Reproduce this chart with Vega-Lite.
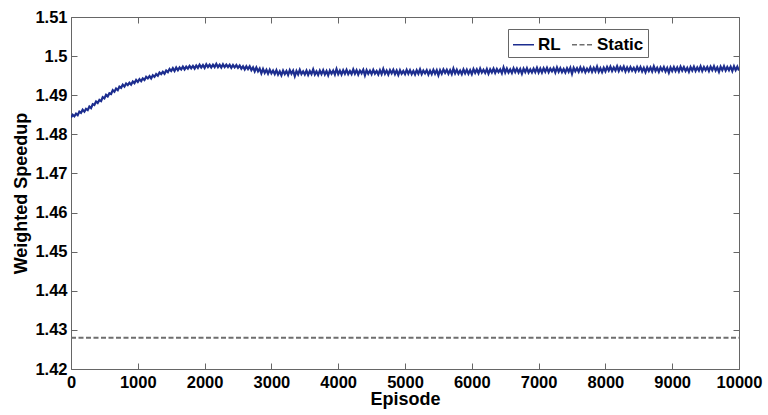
{
"$schema": "https://vega.github.io/schema/vega-lite/v6.json",
"width": 668,
"height": 352,
"autosize": "none",
"padding": {"left": 71, "top": 17, "right": 29, "bottom": 46},
"background": "white",
"config": {
  "view": {"stroke": null},
  "font": "Liberation Sans",
  "axis": {"grid": false, "domainColor": "#666666", "tickColor": "#666666", "domainWidth": 1, "tickWidth": 1, "tickSize": -6, "labelFont": "Liberation Sans", "labelFontSize": 16.5, "labelFontWeight": "bold", "labelColor": "black", "titleFont": "Liberation Sans", "titleFontSize": 18, "titleFontWeight": "bold", "titleColor": "black"}
},
"datasets": {
"rl": [
{"e":0,"v":1.4843},{"e":25,"v":1.4850},{"e":50,"v":1.4846},{"e":75,"v":1.4853},{"e":100,"v":1.4849},{"e":125,"v":1.4858},{"e":150,"v":1.4855},{"e":175,"v":1.4863},{"e":200,"v":1.4858},{"e":225,"v":1.4865},{"e":250,"v":1.4862},
{"e":275,"v":1.4871},{"e":300,"v":1.4867},{"e":325,"v":1.4877},{"e":350,"v":1.4875},{"e":375,"v":1.4884},{"e":400,"v":1.4880},{"e":425,"v":1.4888},{"e":450,"v":1.4885},{"e":475,"v":1.4895},{"e":500,"v":1.4892},
{"e":525,"v":1.4901},{"e":550,"v":1.4897},{"e":575,"v":1.4905},{"e":600,"v":1.4903},{"e":625,"v":1.4913},{"e":650,"v":1.4909},{"e":675,"v":1.4917},{"e":700,"v":1.4913},{"e":725,"v":1.4922},{"e":750,"v":1.4919},
{"e":775,"v":1.4927},{"e":800,"v":1.4922},{"e":825,"v":1.4930},{"e":850,"v":1.4926},{"e":875,"v":1.4932},{"e":900,"v":1.4927},{"e":925,"v":1.4935},{"e":950,"v":1.4931},{"e":975,"v":1.4939},{"e":1000,"v":1.4934},
{"e":1025,"v":1.4941},{"e":1050,"v":1.4936},{"e":1075,"v":1.4943},{"e":1100,"v":1.4939},{"e":1125,"v":1.4947},{"e":1150,"v":1.4943},{"e":1175,"v":1.4949},{"e":1200,"v":1.4943},{"e":1225,"v":1.4951},{"e":1250,"v":1.4947},
{"e":1275,"v":1.4954},{"e":1300,"v":1.4950},{"e":1325,"v":1.4958},{"e":1350,"v":1.4954},{"e":1375,"v":1.4960},{"e":1400,"v":1.4955},{"e":1425,"v":1.4963},{"e":1450,"v":1.4959},{"e":1475,"v":1.4967},{"e":1500,"v":1.4962},
{"e":1525,"v":1.4969},{"e":1550,"v":1.4962},{"e":1575,"v":1.4971},{"e":1600,"v":1.4964},{"e":1625,"v":1.4971},{"e":1650,"v":1.4966},{"e":1675,"v":1.4973},{"e":1700,"v":1.4966},{"e":1725,"v":1.4973},{"e":1750,"v":1.4968},
{"e":1775,"v":1.4975},{"e":1800,"v":1.4969},{"e":1825,"v":1.4975},{"e":1850,"v":1.4968},{"e":1875,"v":1.4976},{"e":1900,"v":1.4970},{"e":1925,"v":1.4978},{"e":1950,"v":1.4971},{"e":1975,"v":1.4977},{"e":2000,"v":1.4970},
{"e":2025,"v":1.4979},{"e":2050,"v":1.4972},{"e":2075,"v":1.4978},{"e":2100,"v":1.4971},{"e":2125,"v":1.4978},{"e":2150,"v":1.4972},{"e":2175,"v":1.4980},{"e":2200,"v":1.4972},{"e":2225,"v":1.4978},{"e":2250,"v":1.4971},
{"e":2275,"v":1.4979},{"e":2300,"v":1.4972},{"e":2325,"v":1.4978},{"e":2350,"v":1.4972},{"e":2375,"v":1.4978},{"e":2400,"v":1.4970},{"e":2425,"v":1.4977},{"e":2450,"v":1.4971},{"e":2475,"v":1.4977},{"e":2500,"v":1.4970},
{"e":2525,"v":1.4976},{"e":2550,"v":1.4968},{"e":2575,"v":1.4974},{"e":2600,"v":1.4966},{"e":2625,"v":1.4974},{"e":2650,"v":1.4967},{"e":2675,"v":1.4974},{"e":2700,"v":1.4964},{"e":2725,"v":1.4971},{"e":2750,"v":1.4961},
{"e":2775,"v":1.4971},{"e":2800,"v":1.4961},{"e":2825,"v":1.4968},{"e":2850,"v":1.4956},{"e":2875,"v":1.4967},{"e":2900,"v":1.4957},{"e":2925,"v":1.4965},{"e":2950,"v":1.4955},{"e":2975,"v":1.4965},{"e":3000,"v":1.4956},
{"e":3025,"v":1.4963},{"e":3050,"v":1.4954},{"e":3075,"v":1.4964},{"e":3100,"v":1.4953},{"e":3125,"v":1.4961},{"e":3150,"v":1.4951},{"e":3175,"v":1.4963},{"e":3200,"v":1.4954},{"e":3225,"v":1.4962},{"e":3250,"v":1.4952},
{"e":3275,"v":1.4964},{"e":3300,"v":1.4955},{"e":3325,"v":1.4963},{"e":3350,"v":1.4949},{"e":3375,"v":1.4962},{"e":3400,"v":1.4953},{"e":3425,"v":1.4965},{"e":3450,"v":1.4954},{"e":3475,"v":1.4961},{"e":3500,"v":1.4953},
{"e":3525,"v":1.4963},{"e":3550,"v":1.4952},{"e":3575,"v":1.4962},{"e":3600,"v":1.4954},{"e":3625,"v":1.4966},{"e":3650,"v":1.4953},{"e":3675,"v":1.4961},{"e":3700,"v":1.4952},{"e":3725,"v":1.4963},{"e":3750,"v":1.4954},
{"e":3775,"v":1.4964},{"e":3800,"v":1.4953},{"e":3825,"v":1.4962},{"e":3850,"v":1.4951},{"e":3875,"v":1.4963},{"e":3900,"v":1.4955},{"e":3925,"v":1.4963},{"e":3950,"v":1.4953},{"e":3975,"v":1.4967},{"e":4000,"v":1.4954},
{"e":4025,"v":1.4963},{"e":4050,"v":1.4953},{"e":4075,"v":1.4964},{"e":4100,"v":1.4955},{"e":4125,"v":1.4965},{"e":4150,"v":1.4954},{"e":4175,"v":1.4962},{"e":4200,"v":1.4954},{"e":4225,"v":1.4966},{"e":4250,"v":1.4955},
{"e":4275,"v":1.4964},{"e":4300,"v":1.4953},{"e":4325,"v":1.4963},{"e":4350,"v":1.4956},{"e":4375,"v":1.4965},{"e":4400,"v":1.4951},{"e":4425,"v":1.4964},{"e":4450,"v":1.4955},{"e":4475,"v":1.4963},{"e":4500,"v":1.4954},
{"e":4525,"v":1.4965},{"e":4550,"v":1.4955},{"e":4575,"v":1.4962},{"e":4600,"v":1.4953},{"e":4625,"v":1.4964},{"e":4650,"v":1.4954},{"e":4675,"v":1.4967},{"e":4700,"v":1.4955},{"e":4725,"v":1.4963},{"e":4750,"v":1.4953},
{"e":4775,"v":1.4964},{"e":4800,"v":1.4956},{"e":4825,"v":1.4965},{"e":4850,"v":1.4954},{"e":4875,"v":1.4963},{"e":4900,"v":1.4952},{"e":4925,"v":1.4964},{"e":4950,"v":1.4955},{"e":4975,"v":1.4962},{"e":5000,"v":1.4954},
{"e":5025,"v":1.4965},{"e":5050,"v":1.4955},{"e":5075,"v":1.4964},{"e":5100,"v":1.4954},{"e":5125,"v":1.4962},{"e":5150,"v":1.4953},{"e":5175,"v":1.4964},{"e":5200,"v":1.4955},{"e":5225,"v":1.4966},{"e":5250,"v":1.4954},
{"e":5275,"v":1.4963},{"e":5300,"v":1.4956},{"e":5325,"v":1.4964},{"e":5350,"v":1.4953},{"e":5375,"v":1.4963},{"e":5400,"v":1.4954},{"e":5425,"v":1.4965},{"e":5450,"v":1.4955},{"e":5475,"v":1.4964},{"e":5500,"v":1.4951},
{"e":5525,"v":1.4964},{"e":5550,"v":1.4955},{"e":5575,"v":1.4966},{"e":5600,"v":1.4957},{"e":5625,"v":1.4965},{"e":5650,"v":1.4955},{"e":5675,"v":1.4964},{"e":5700,"v":1.4954},{"e":5725,"v":1.4968},{"e":5750,"v":1.4956},
{"e":5775,"v":1.4965},{"e":5800,"v":1.4955},{"e":5825,"v":1.4963},{"e":5850,"v":1.4954},{"e":5875,"v":1.4966},{"e":5900,"v":1.4956},{"e":5925,"v":1.4965},{"e":5950,"v":1.4955},{"e":5975,"v":1.4964},{"e":6000,"v":1.4954},
{"e":6025,"v":1.4967},{"e":6050,"v":1.4957},{"e":6075,"v":1.4966},{"e":6100,"v":1.4956},{"e":6125,"v":1.4968},{"e":6150,"v":1.4958},{"e":6175,"v":1.4965},{"e":6200,"v":1.4957},{"e":6225,"v":1.4967},{"e":6250,"v":1.4955},
{"e":6275,"v":1.4966},{"e":6300,"v":1.4958},{"e":6325,"v":1.4968},{"e":6350,"v":1.4957},{"e":6375,"v":1.4967},{"e":6400,"v":1.4959},{"e":6425,"v":1.4966},{"e":6450,"v":1.4956},{"e":6475,"v":1.4971},{"e":6500,"v":1.4958},
{"e":6525,"v":1.4968},{"e":6550,"v":1.4958},{"e":6575,"v":1.4966},{"e":6600,"v":1.4957},{"e":6625,"v":1.4969},{"e":6650,"v":1.4959},{"e":6675,"v":1.4968},{"e":6700,"v":1.4958},{"e":6725,"v":1.4967},{"e":6750,"v":1.4955},
{"e":6775,"v":1.4968},{"e":6800,"v":1.4959},{"e":6825,"v":1.4969},{"e":6850,"v":1.4958},{"e":6875,"v":1.4966},{"e":6900,"v":1.4958},{"e":6925,"v":1.4968},{"e":6950,"v":1.4959},{"e":6975,"v":1.4970},{"e":7000,"v":1.4958},
{"e":7025,"v":1.4968},{"e":7050,"v":1.4958},{"e":7075,"v":1.4969},{"e":7100,"v":1.4960},{"e":7125,"v":1.4970},{"e":7150,"v":1.4959},{"e":7175,"v":1.4968},{"e":7200,"v":1.4961},{"e":7225,"v":1.4969},{"e":7250,"v":1.4958},
{"e":7275,"v":1.4971},{"e":7300,"v":1.4960},{"e":7325,"v":1.4969},{"e":7350,"v":1.4959},{"e":7375,"v":1.4967},{"e":7400,"v":1.4958},{"e":7425,"v":1.4969},{"e":7450,"v":1.4960},{"e":7475,"v":1.4970},{"e":7500,"v":1.4955},
{"e":7525,"v":1.4970},{"e":7550,"v":1.4961},{"e":7575,"v":1.4969},{"e":7600,"v":1.4960},{"e":7625,"v":1.4971},{"e":7650,"v":1.4961},{"e":7675,"v":1.4970},{"e":7700,"v":1.4959},{"e":7725,"v":1.4968},{"e":7750,"v":1.4961},
{"e":7775,"v":1.4971},{"e":7800,"v":1.4960},{"e":7825,"v":1.4970},{"e":7850,"v":1.4961},{"e":7875,"v":1.4973},{"e":7900,"v":1.4960},{"e":7925,"v":1.4969},{"e":7950,"v":1.4959},{"e":7975,"v":1.4970},{"e":8000,"v":1.4961},
{"e":8025,"v":1.4972},{"e":8050,"v":1.4963},{"e":8075,"v":1.4973},{"e":8100,"v":1.4962},{"e":8125,"v":1.4971},{"e":8150,"v":1.4963},{"e":8175,"v":1.4974},{"e":8200,"v":1.4962},{"e":8225,"v":1.4972},{"e":8250,"v":1.4964},
{"e":8275,"v":1.4973},{"e":8300,"v":1.4961},{"e":8325,"v":1.4971},{"e":8350,"v":1.4962},{"e":8375,"v":1.4972},{"e":8400,"v":1.4963},{"e":8425,"v":1.4970},{"e":8450,"v":1.4961},{"e":8475,"v":1.4972},{"e":8500,"v":1.4963},
{"e":8525,"v":1.4972},{"e":8550,"v":1.4961},{"e":8575,"v":1.4970},{"e":8600,"v":1.4959},{"e":8625,"v":1.4971},{"e":8650,"v":1.4962},{"e":8675,"v":1.4971},{"e":8700,"v":1.4961},{"e":8725,"v":1.4974},{"e":8750,"v":1.4962},
{"e":8775,"v":1.4970},{"e":8800,"v":1.4960},{"e":8825,"v":1.4971},{"e":8850,"v":1.4963},{"e":8875,"v":1.4972},{"e":8900,"v":1.4961},{"e":8925,"v":1.4970},{"e":8950,"v":1.4958},{"e":8975,"v":1.4971},{"e":9000,"v":1.4962},
{"e":9025,"v":1.4972},{"e":9050,"v":1.4962},{"e":9075,"v":1.4971},{"e":9100,"v":1.4961},{"e":9125,"v":1.4973},{"e":9150,"v":1.4963},{"e":9175,"v":1.4972},{"e":9200,"v":1.4962},{"e":9225,"v":1.4970},{"e":9250,"v":1.4960},
{"e":9275,"v":1.4972},{"e":9300,"v":1.4963},{"e":9325,"v":1.4973},{"e":9350,"v":1.4962},{"e":9375,"v":1.4971},{"e":9400,"v":1.4963},{"e":9425,"v":1.4974},{"e":9450,"v":1.4962},{"e":9475,"v":1.4972},{"e":9500,"v":1.4964},
{"e":9525,"v":1.4972},{"e":9550,"v":1.4962},{"e":9575,"v":1.4973},{"e":9600,"v":1.4964},{"e":9625,"v":1.4974},{"e":9650,"v":1.4963},{"e":9675,"v":1.4971},{"e":9700,"v":1.4960},{"e":9725,"v":1.4973},{"e":9750,"v":1.4964},
{"e":9775,"v":1.4974},{"e":9800,"v":1.4963},{"e":9825,"v":1.4972},{"e":9850,"v":1.4964},{"e":9875,"v":1.4973},{"e":9900,"v":1.4962},{"e":9925,"v":1.4974},{"e":9950,"v":1.4964},{"e":9975,"v":1.4973},{"e":10000,"v":1.4963}
],
"st": [{"e":0,"v":1.428},{"e":10000,"v":1.428}]
},
"layer": [
{
  "data": {"name": "rl"},
  "mark": {"type": "line", "strokeWidth": 2.2, "clip": true},
  "encoding": {
    "x": {"field": "e", "type": "quantitative", "scale": {"domain": [0, 10000], "nice": false, "zero": false},
      "axis": {"orient": "bottom", "title": "Episode", "values": [0,1000,2000,3000,4000,5000,6000,7000,8000,9000,10000], "format": "d", "labelPadding": 11, "titlePadding": 0, "labelFlush": false, "labelOverlap": false}},
    "y": {"field": "v", "type": "quantitative", "scale": {"domain": [1.42, 1.51], "nice": false, "zero": false},
      "axis": {"orient": "left", "title": "Weighted Speedup", "values": [1.42,1.43,1.44,1.45,1.46,1.47,1.48,1.49,1.5,1.51], "format": ".2~f", "labelPadding": 10, "titlePadding": 4, "labelFlush": false, "labelOverlap": false}},
    "color": {"datum": "RL", "scale": {"domain": ["RL", "Static"], "range": ["#1c2d8f", "#6e6e6e"]},
      "legend": {"title": null, "orient": "none", "legendX": 437, "legendY": 12, "direction": "horizontal", "strokeColor": "#666666", "fillColor": "white", "padding": 4, "symbolType": "stroke", "symbolSize": 441, "symbolStrokeWidth": 1.5, "labelFont": "Liberation Sans", "labelFontSize": 17, "labelFontWeight": "bold", "labelColor": "black", "columnPadding": 8, "labelOffset": 3}},
    "strokeDash": {"datum": "RL", "scale": {"domain": ["RL", "Static"], "range": [[1, 0], [5, 2.5]]},
      "legend": {"title": null, "orient": "none", "legendX": 437, "legendY": 12, "direction": "horizontal", "strokeColor": "#666666", "fillColor": "white", "padding": 4, "symbolType": "stroke", "symbolSize": 441, "symbolStrokeWidth": 1.5, "labelFont": "Liberation Sans", "labelFontSize": 17, "labelFontWeight": "bold", "labelColor": "black", "columnPadding": 8, "labelOffset": 3}}
  }
},
{
  "data": {"name": "st"},
  "mark": {"type": "line", "strokeWidth": 2},
  "encoding": {
    "x": {"field": "e", "type": "quantitative", "scale": {"domain": [0, 10000], "nice": false, "zero": false},
      "axis": {"orient": "top", "title": null, "labels": false, "values": [0,1000,2000,3000,4000,5000,6000,7000,8000,9000,10000]}},
    "y": {"field": "v", "type": "quantitative", "scale": {"domain": [1.42, 1.51], "nice": false, "zero": false},
      "axis": {"orient": "right", "title": null, "labels": false, "values": [1.42,1.43,1.44,1.45,1.46,1.47,1.48,1.49,1.5,1.51]}},
    "color": {"datum": "Static"},
    "strokeDash": {"datum": "Static"}
  }
}
],
"resolve": {"axis": {"x": "independent", "y": "independent"}}
}
